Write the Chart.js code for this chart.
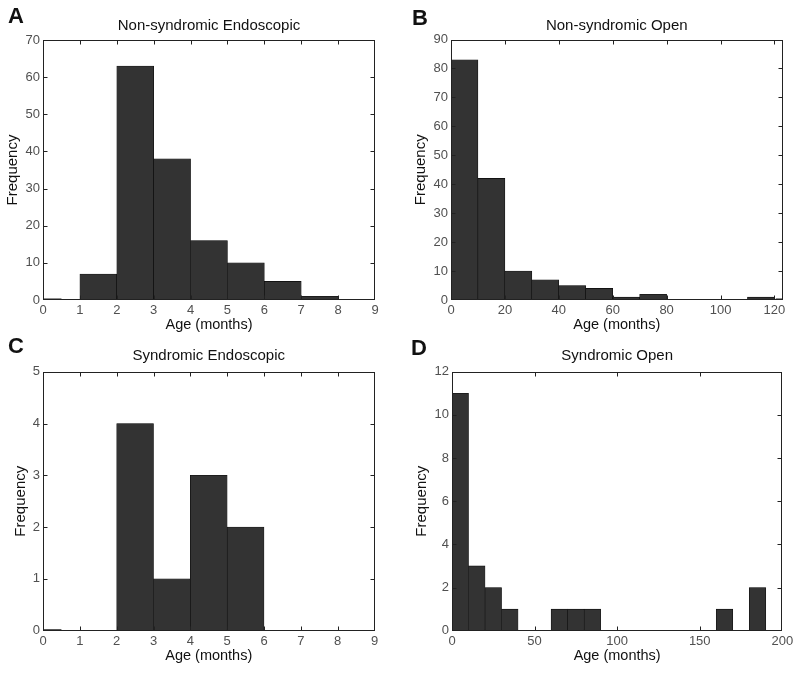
<!DOCTYPE html>
<html><head><meta charset="utf-8">
<script src="https://cdn.jsdelivr.net/npm/chart.js@4.4.1/dist/chart.umd.min.js"></script>
<style>
html,body{margin:0;padding:0;background:#fff;}
#wrap{position:relative;width:800px;height:673px;overflow:hidden;background:#fff;}
canvas{position:absolute;}
.lbl{position:absolute;font:bold 22px 'Liberation Sans',Arial,sans-serif;line-height:22px;color:#111;}
</style></head><body>
<div id="wrap">
<canvas id="cA" width="400" height="345" style="left:0px;top:0px"></canvas>
<canvas id="cB" width="400" height="345" style="left:400px;top:0px"></canvas>
<canvas id="cC" width="400" height="343" style="left:0px;top:330px"></canvas>
<canvas id="cD" width="400" height="343" style="left:400px;top:330px"></canvas>
<div class="lbl" style="left:8px;top:5px">A</div>
<div class="lbl" style="left:412px;top:7px">B</div>
<div class="lbl" style="left:8px;top:335px">C</div>
<div class="lbl" style="left:411px;top:337px">D</div>
</div>
<script>
// ---- data (bin centres in months, counts) ----
const titles = ['Non-syndromic Endoscopic', 'Non-syndromic Open', 'Syndromic Endoscopic', 'Syndromic Open'];
const xLabel = 'Age (months)';
const yLabel = 'Frequency';

const binsA = [0.5, 1.5, 2.5, 3.5, 4.5, 5.5, 6.5, 7.5, 8.5];
const countsA = [0, 7, 63, 38, 16, 10, 5, 1, 0];

const binsB = [5, 15, 25, 35, 45, 55, 65, 75, 85, 95, 105, 115];
const countsB = [83, 42, 10, 7, 5, 4, 1, 2, 0, 0, 0, 1];

const binsC = [0.5, 1.5, 2.5, 3.5, 4.5, 5.5, 6.5, 7.5, 8.5];
const countsC = [0, 0, 4, 1, 3, 2, 0, 0, 0];

const binsD = [5, 15, 25, 35, 45, 55, 65, 75, 85, 95, 105, 115, 125, 135, 145, 155, 165, 175, 185, 195];
const countsD = [11, 3, 2, 1, 0, 0, 1, 1, 1, 0, 0, 0, 0, 0, 0, 0, 1, 0, 2, 0];

// small residual edge stubs lying on the zero line (x ranges)
const stubA = [0, 0.5];
const stubB = [120.5, 123];
const stubC = [0, 0.5];

// axis ranges / tick steps
const xRangeA = [0, 9],   xStepA = 1,  yRangeA = [0, 70], yStepA = 10;
const xRangeB = [0, 123], xStepB = 20, yRangeB = [0, 90], yStepB = 10;
const xRangeC = [0, 9],   xStepC = 1,  yRangeC = [0, 5],  yStepC = 1;
const xRangeD = [0, 200], xStepD = 50, yRangeD = [0, 12], yStepD = 2;

// ---- rendering ----
const FONT = "'Liberation Sans', Arial, sans-serif";
const TICKCOL = '#505050';

const boxPlugin = {
  id: 'matlabBox',
  afterDatasetsDraw(chart) {
    const {ctx, chartArea: ca, scales: {x, y}} = chart;
    const L = Math.round(ca.left) + 0.5, R = Math.round(ca.right) - 0.5;
    const T = Math.round(ca.top) + 0.5, B = Math.round(ca.bottom) - 0.5;
    ctx.save();
    ctx.strokeStyle = '#222';
    ctx.lineWidth = 1;
    ctx.beginPath();
    x.ticks.forEach(t => {
      const p = Math.round(x.getPixelForValue(t.value)) + 0.5;
      if (p <= L + 1 || p >= R - 1) return;
      ctx.moveTo(p, B); ctx.lineTo(p, B - 4);
      ctx.moveTo(p, T); ctx.lineTo(p, T + 4);
    });
    y.ticks.forEach(t => {
      const p = Math.round(y.getPixelForValue(t.value)) + 0.5;
      if (p <= T + 1 || p >= B - 1) return;
      ctx.moveTo(L, p); ctx.lineTo(L + 4, p);
      ctx.moveTo(R, p); ctx.lineTo(R - 4, p);
    });
    ctx.stroke();
    ctx.strokeRect(L, T, R - L, B - T);
    ctx.restore();
  }
};

function makePanel(id, cfg) {
  const datasets = [{
    type: 'bar',
    data: cfg.bins.map((b, i) => ({x: b, y: cfg.counts[i]})),
    backgroundColor: '#333333',
    borderColor: '#0a0a0a',
    borderWidth: 0.6,
    borderSkipped: false,
    barPercentage: 1,
    categoryPercentage: 1,
    order: 2
  }];
  if (cfg.stub) {
    datasets.push({
      type: 'line',
      data: cfg.stub.map(v => ({x: v, y: 0})),
      borderColor: '#222',
      borderWidth: 3,
      pointRadius: 0,
      order: 1
    });
  }
  new Chart(document.getElementById(id), {
    type: 'bar',
    data: {datasets},
    plugins: [boxPlugin],
    options: {
      responsive: false,
      animation: false,
      events: [],
      layout: {padding: {left: 0, top: 0, bottom: 0, right: cfg.padR}},
      plugins: {
        legend: {display: false},
        tooltip: {enabled: false},
        title: {
          display: true, text: cfg.title, fullSize: false, color: '#111',
          font: {family: FONT, size: 15, weight: 'normal'},
          padding: {top: cfg.tTop, bottom: cfg.tBot}
        }
      },
      scales: {
        x: {
          type: 'linear', min: cfg.xr[0], max: cfg.xr[1], offset: false,
          grid: {display: false, drawTicks: false, offset: false},
          border: {display: false},
          ticks: {stepSize: cfg.xs, includeBounds: false, autoSkip: false, maxRotation: 0,
                  padding: 3, color: TICKCOL, font: {family: FONT, size: 13}},
          title: {display: true, text: xLabel, color: '#111',
                  font: {family: FONT, size: 14.5}, padding: {top: 0, bottom: cfg.xtBot}},
          afterFit(s) { s.height = cfg.H; }
        },
        y: {
          type: 'linear', min: cfg.yr[0], max: cfg.yr[1],
          grid: {display: false, drawTicks: false},
          border: {display: false},
          ticks: {stepSize: cfg.ys, padding: 3, color: TICKCOL, font: {family: FONT, size: 13}},
          title: {display: true, text: yLabel, color: '#111',
                  font: {family: FONT, size: 15}, padding: {top: cfg.ytTop, bottom: 0}},
          afterFit(s) { s.width = cfg.W; }
        }
      }
    }
  });
}

makePanel('cA', {bins: binsA, counts: countsA, stub: stubA, title: titles[0],
  xr: xRangeA, xs: xStepA, yr: yRangeA, ys: yStepA,
  W: 43, padR: 25, H: 45, tTop: 17, tBot: 5, xtBot: 11.5, ytTop: 4});
makePanel('cB', {bins: binsB, counts: countsB, stub: stubB, title: titles[1],
  xr: xRangeB, xs: xStepB, yr: yRangeB, ys: yStepB,
  W: 51, padR: 17.5, H: 45, tTop: 17, tBot: 4.5, xtBot: 11.5, ytTop: 11.5});
makePanel('cC', {bins: binsC, counts: countsC, stub: stubC, title: titles[2],
  xr: xRangeC, xs: xStepC, yr: yRangeC, ys: yStepC,
  W: 43, padR: 25.5, H: 42.3, tTop: 16.5, tBot: 7.2, xtBot: 8, ytTop: 11.5});
makePanel('cD', {bins: binsD, counts: countsD, title: titles[3],
  xr: xRangeD, xs: xStepD, yr: yRangeD, ys: yStepD,
  W: 52, padR: 17.7, H: 42.3, tTop: 16.5, tBot: 7.2, xtBot: 8, ytTop: 12.5});
</script>
</body></html>
